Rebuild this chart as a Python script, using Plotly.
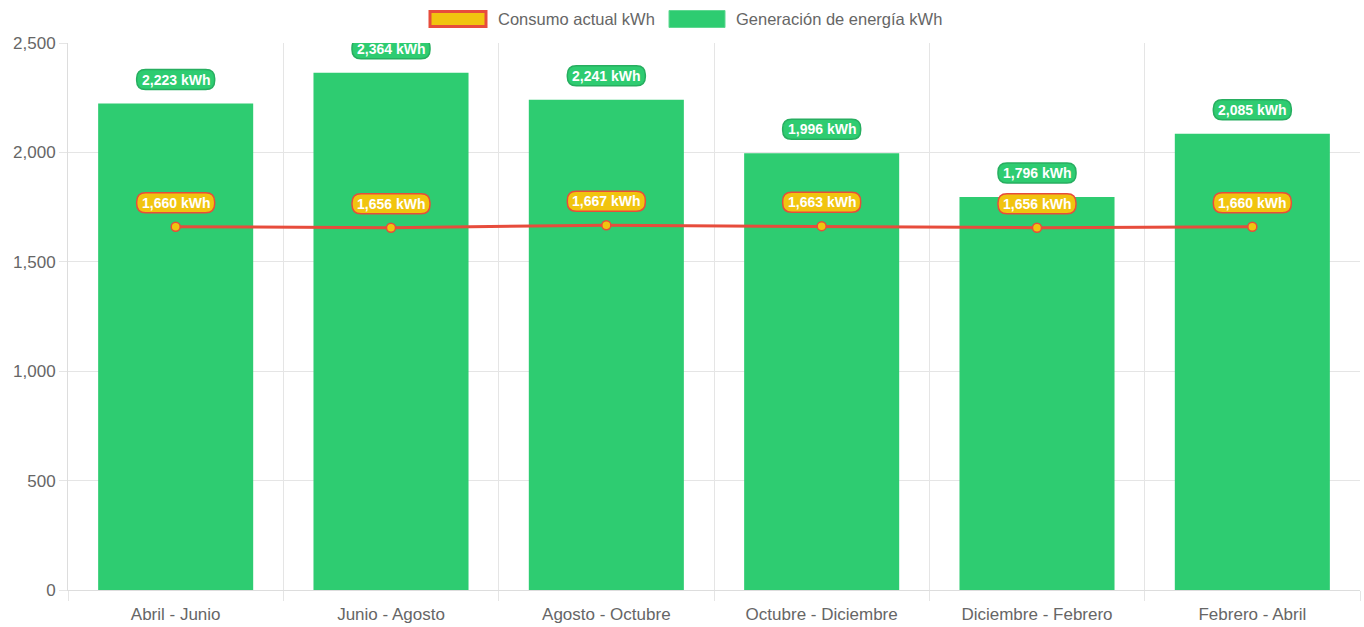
import plotly.graph_objects as go

categories = ["Abril - Junio", "Junio - Agosto", "Agosto - Octubre",
              "Octubre - Diciembre", "Diciembre - Febrero", "Febrero - Abril"]
generacion = [2223, 2364, 2241, 1996, 1796, 2085]
consumo = [1660, 1656, 1667, 1663, 1656, 1660]
y_ticks = [0, 500, 1000, 1500, 2000, 2500]

GREEN = "#2ecc71"
GREEN_DARK = "#27ae60"
YELLOW = "#f1c40f"
RED = "#e74c3c"
FONT = "Liberation Sans, Arial, sans-serif"

fig = go.Figure()
fig.add_trace(go.Bar(
    x=categories, y=generacion, name="Generación de energía kWh",
    marker=dict(color=GREEN, line=dict(width=0)), showlegend=False,
    hoverinfo="x+y",
))
fig.add_trace(go.Scatter(
    x=categories, y=consumo, name="Consumo actual kWh", mode="lines+markers",
    line=dict(color=RED, width=3),
    marker=dict(color=YELLOW, size=9, line=dict(color=RED, width=1.5)),
    showlegend=False,
))


def rounded_rect(w, h, r, cy):
    x0, x1 = -w / 2, w / 2
    y0, y1 = cy - h / 2, cy + h / 2
    return (f"M{x0 + r},{y0} L{x1 - r},{y0} Q{x1},{y0} {x1},{y0 + r} "
            f"L{x1},{y1 - r} Q{x1},{y1} {x1 - r},{y1} L{x0 + r},{y1} "
            f"Q{x0},{y1} {x0},{y1 - r} L{x0},{y0 + r} Q{x0},{y0} {x0 + r},{y0} Z")


shapes = []
annotations = []
OFFSET = 24
for series, fill, border in ((generacion, GREEN, GREEN_DARK), (consumo, YELLOW, RED)):
    for i, v in enumerate(series):
        shapes.append(dict(
            type="path", xref="x", yref="y", xsizemode="pixel", ysizemode="pixel",
            xanchor=i, yanchor=v, path=rounded_rect(78, 20, 9, OFFSET),
            fillcolor=fill, line=dict(color=border, width=1.5), layer="above",
        ))
        annotations.append(dict(
            x=categories[i], y=v, xref="x", yref="y", text=f"<b>{v:,} kWh</b>",
            showarrow=False, yshift=OFFSET, font=dict(color="white", size=14, family=FONT),
        ))

# Legend (chart.js style boxes)
PLOT_L, PLOT_W, PLOT_T, PLOT_H = 68, 1292, 43, 547


def px_to_paper_x(px):
    return (px - PLOT_L) / PLOT_W


def px_to_paper_y(py):
    return (PLOT_T + PLOT_H - py) / PLOT_H


legend_items = [("Consumo actual kWh", YELLOW, RED, 3, 458, 56, 15, 496),
                ("Generación de energía kWh", GREEN, "#5fd891", 1, 697, 56, 17, 734)]
for name, fill, border, bw, cx, w, h, tx in legend_items:
    shapes.append(dict(
        type="rect", xref="paper", yref="paper", xsizemode="pixel", ysizemode="pixel",
        xanchor=px_to_paper_x(cx), yanchor=px_to_paper_y(19),
        x0=-w / 2, x1=w / 2, y0=-h / 2, y1=h / 2,
        fillcolor=fill, line=dict(color=border, width=bw), layer="above",
    ))
    annotations.append(dict(
        x=px_to_paper_x(tx), y=px_to_paper_y(19), xref="paper", yref="paper",
        xanchor="left", yanchor="middle", text=name, showarrow=False,
        font=dict(color="#666666", size=16.5, family=FONT),
    ))

fig.update_layout(
    width=1364, height=627,
    margin=dict(l=PLOT_L, r=4, t=PLOT_T, b=37),
    paper_bgcolor="white", plot_bgcolor="white",
    bargap=0.28,
    font=dict(family=FONT, color="#666666", size=17),
    shapes=shapes, annotations=annotations,
    showlegend=False,
    xaxis=dict(
        type="category", tickson="boundaries", ticks="outside", ticklen=10,
        tickcolor="#e5e5e5", showgrid=True, gridcolor="#e5e5e5", gridwidth=1,
        showline=True, linecolor="#dddddd", linewidth=1, ticklabelstandoff=9,
        tickfont=dict(size=17, color="#666666"), range=[-0.5, 5.5],
    ),
    yaxis=dict(
        range=[0, 2500], tickvals=y_ticks, ticktext=[f"{t:,}" for t in y_ticks],
        ticks="outside", ticklen=8, tickcolor="#e5e5e5",
        showgrid=True, gridcolor="#e5e5e5", gridwidth=1,
        showline=True, linecolor="#dddddd", linewidth=1, zeroline=False,
        tickfont=dict(size=17, color="#666666"),
    ),
)

fig.write_html("out.html", config={"displayModeBar": False},
               post_script="document.body.style.margin='0';")
